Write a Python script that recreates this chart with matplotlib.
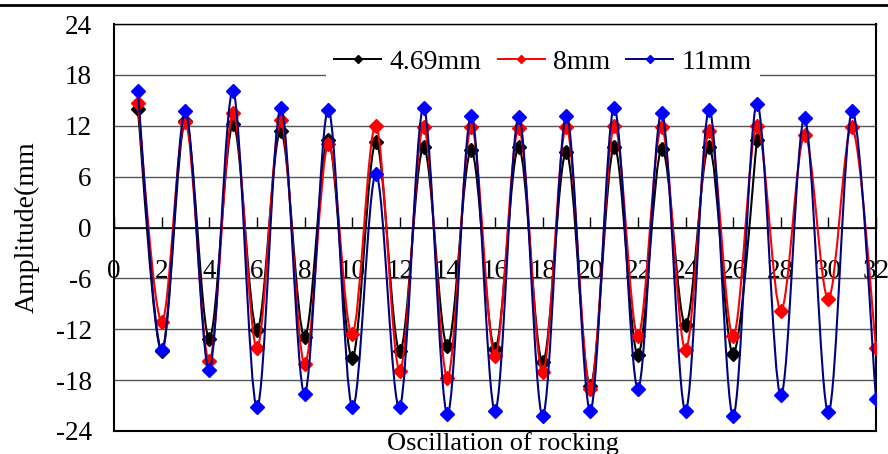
import numpy as np
import matplotlib
matplotlib.use("Agg")
import matplotlib.pyplot as plt
from matplotlib.path import Path
from matplotlib.patches import PathPatch
from matplotlib.lines import Line2D

plt.rcParams['font.family'] = ['Liberation Serif', 'DejaVu Serif']
plt.rcParams['axes.unicode_minus'] = False

# Oscillation number and amplitude (mm) for the three cases
x_small = list(range(1, 28))
amp_469 = [14.0, -14.6, 12.6, -13.1, 12.2, -12.1, 11.4, -12.9, 10.3, -15.4,
           10.1, -14.6, 9.5, -14.0, 9.1, -14.3, 9.5, -15.9, 8.9, -18.7,
           9.5, -15.0, 9.3, -11.5, 9.5, -14.9, 10.3]
x_full = list(range(1, 33))
amp_8 = [14.7, -11.1, 12.5, -15.8, 13.5, -14.2, 12.7, -16.1, 9.9, -12.6,
         12.0, -16.9, 11.9, -17.7, 11.9, -15.1, 11.7, -17.1, 11.9, -19.0,
         12.0, -12.8, 11.8, -14.4, 11.4, -12.8, 12.0, -9.8, 10.9, -8.4,
         11.8, -14.2]
amp_11 = [16.1, -14.5, 13.7, -16.8, 16.1, -21.2, 14.1, -19.6, 13.9, -21.2,
          6.3, -21.2, 14.1, -22.0, 13.2, -21.6, 13.0, -22.2, 13.2, -21.6,
          14.1, -19.0, 13.5, -21.6, 13.9, -22.2, 14.6, -19.8, 12.9, -21.8,
          13.7, -20.2]
labels = ["4.69mm", "8mm", "11mm"]
line_colors = ["black", "#ff0000", "#000080"]
marker_colors = ["black", "#ff0000", "#0000ff"]


# smoothed line through the points (Catmull-Rom as cubic bezier)
def smooth_path(xs, ys):
    pts = np.column_stack([xs, ys]).astype(float)
    n = len(pts)
    verts = [pts[0]]
    codes = [Path.MOVETO]
    for i in range(n - 1):
        p0 = pts[max(i - 1, 0)]
        p1 = pts[i]
        p2 = pts[i + 1]
        p3 = pts[min(i + 2, n - 1)]
        verts += [p1 + (p2 - p0) / 6, p2 - (p3 - p1) / 6, p2]
        codes += [Path.CURVE4] * 3
    return Path(verts, codes)


fig = plt.figure(figsize=(8.88, 4.54), dpi=100)
ax = fig.add_axes([114 / 888, 1 - 431 / 454, 762 / 888, 407 / 454])

series = [(x_small, amp_469), (x_full, amp_8), (x_full, amp_11)]
handles = []
for k, (xs, ys) in enumerate(series):
    ax.add_patch(PathPatch(smooth_path(xs, ys), facecolor="none",
                           edgecolor=line_colors[k], lw=1.5, zorder=3 + k))
    ax.plot(xs, ys, ls="none", marker="D", ms=7, color=marker_colors[k],
            zorder=3 + k)
    handles.append(Line2D([], [], color=line_colors[k], lw=1.4, marker="D",
                          ms=4.5, mfc=marker_colors[k], mec=marker_colors[k]))

ax.set_xlim(0, 32)
ax.set_ylim(-24, 24)
ax.set_yticks(range(-24, 25, 6))
ax.set_xticks(range(0, 33, 2))
ax.yaxis.grid(True, color="#555555", lw=1)
ax.tick_params(axis="y", length=0, labelsize=19.5, pad=16)

# horizontal axis crossing at zero, ticks pointing up
ax.spines["bottom"].set_position(("data", 0))
ax.spines["bottom"].set_linewidth(1.2)
ax.tick_params(axis="x", direction="in", length=8, width=1,
               labelsize=19.5, pad=23)
ax.spines["left"].set_linewidth(1.5)
ax.spines["right"].set_linewidth(1.5)
ax.spines["top"].set_linewidth(1)
# bottom edge of the plot box
ax.plot([0, 1], [0, 0], transform=ax.transAxes, color="black", lw=1.5,
        clip_on=False, zorder=6)

ax.yaxis.set_label_coords(-0.097, 0.51)
ax.set_ylabel("Amplitude(mm", fontsize=20)
fig.text(503 / 888, 4 / 454, "Oscillation of rocking", fontsize=19,
         ha="center", va="baseline")

leg = ax.legend(handles, labels, ncol=3, loc="center",
                bbox_to_anchor=(543 / 888, 1 - 62 / 454),
                bbox_transform=fig.transFigure, fontsize=20,
                frameon=True, fancybox=False, framealpha=1,
                handlelength=1.7, handletextpad=0.29, columnspacing=0.58,
                borderpad=0.3)
leg.get_frame().set_edgecolor("none")

# border line at the very top
fig.add_artist(Line2D([0, 1], [1 - 5 / 454, 1 - 5 / 454], color="black",
                      lw=2, transform=fig.transFigure))

fig.savefig("out.png", dpi=100)
